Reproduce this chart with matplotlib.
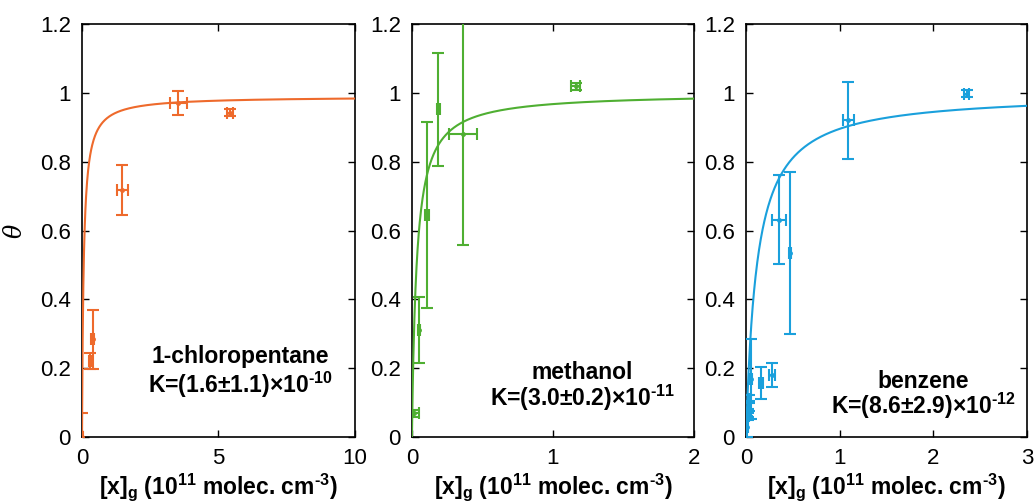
import numpy as np
import matplotlib
matplotlib.use("Agg")
import matplotlib.pyplot as plt

plt.rcParams['font.family'] = ['Liberation Sans Narrow', 'Liberation Sans', 'DejaVu Sans']
plt.rcParams['mathtext.default'] = 'regular'

# ---------------- data ----------------
# 1-chloropentane
x1 = [0.0, 0.29, 0.39, 1.48, 3.53, 5.42]
y1 = [0.0, 0.221, 0.284, 0.718, 0.972, 0.942]
xe1 = [0.02, 0.05, 0.05, 0.2, 0.3, 0.1]
ye1 = [0.07, 0.023, 0.085, 0.073, 0.035, 0.01]
K1 = 16.0       # per 1e11 molec cm-3 (fit)
th1 = 0.99

# methanol
x2 = [0.014, 0.05, 0.109, 0.187, 0.364, 1.161]
y2 = [0.069, 0.311, 0.645, 0.952, 0.882, 1.020]
xe2 = [0.035, 0.01, 0.015, 0.01, 0.1, 0.03]
ye2 = [0.01, 0.096, 0.27, 0.165, 0.325, 0.01]
K2 = 30.0
th2 = 1.0

# benzene
x3 = [0.01, 0.02, 0.025, 0.03, 0.035, 0.05, 0.16, 0.274, 0.355, 0.47, 1.092, 2.355]
y3 = [0.03, 0.06, 0.07, 0.09, 0.11, 0.168, 0.156, 0.180, 0.632, 0.534, 0.921, 0.998]
xe3 = [0.01, 0.01, 0.01, 0.01, 0.01, 0.01, 0.02, 0.03, 0.075, 0.01, 0.06, 0.03]
ye3 = [0.03, 0.01, 0.012, 0.015, 0.012, 0.117, 0.046, 0.036, 0.13, 0.236, 0.112, 0.01]
K3 = 8.6
th3 = 1.0

xmax = [10, 2, 3]
xticks = [[0, 5, 10], [0, 1, 2], [0, 1, 2, 3]]
yticks = [0, 0.2, 0.4, 0.6, 0.8, 1.0, 1.2]
ytick_labels = ['0', '0.2', '0.4', '0.6', '0.8', '1', '1.2']
names = ['1-chloropentane', 'methanol', 'benzene']
HY = '\u2010'
klabels = [r'K=(1.6$\pm$1.1)$\times$10$^{' + HY + '10}$',
           r'K=(3.0$\pm$0.2)$\times$10$^{' + HY + '11}$',
           r'K=(8.6$\pm$2.9)$\times$10$^{' + HY + '12}$']
xlabel = r'[x]$_g$ (10$^{11}$ molec. cm$^{' + HY + '3}$)'
colors = ['#EE6A2C', '#4FAF32', '#1AA0DC']

xs = [x1, x2, x3]
ys = [y1, y2, y3]
xes = [xe1, xe2, xe3]
yes = [ye1, ye2, ye3]
Ks = [K1, K2, K3]
ths = [th1, th2, th3]

fig = plt.figure(figsize=(10.35, 5.04), dpi=100)
lefts = [0.0792, 0.398, 0.7208]
widths = [0.2638, 0.2725, 0.2715]
bottom, height = 0.133, 0.819

name_pos = [(0.58, 0.195), (0.605, 0.155), (0.63, 0.135)]
k_pos = [(0.58, 0.125), (0.605, 0.095), (0.63, 0.075)]

for i in range(3):
    ax = fig.add_axes([lefts[i], bottom, widths[i], height])
    c = colors[i]
    xx = np.linspace(0, xmax[i], 800)
    ax.plot(xx, ths[i] * Ks[i] * xx / (1 + Ks[i] * xx), color=c, lw=1.5, zorder=3)
    ax.errorbar(xs[i], ys[i], xerr=xes[i], yerr=yes[i], fmt='o', ms=2.5,
                color=c, ecolor=c, elinewidth=1.5, capsize=4.5, capthick=1.5,
                clip_on=True, zorder=4)
    ax.set_xlim(0, xmax[i])
    ax.set_ylim(0, 1.2)
    ax.set_xticks(xticks[i])
    ax.set_xticklabels([str(t) for t in xticks[i]])
    ax.set_yticks(yticks)
    ax.set_yticklabels(ytick_labels)
    ax.tick_params(direction='in', top=True, right=True, labelsize=16,
                   length=5, width=1, pad=8)
    for s in ax.spines.values():
        s.set_linewidth(1.2)
    ax.set_xlabel(xlabel, fontsize=16.5, fontweight='bold', labelpad=2)
    ax.text(name_pos[i][0], name_pos[i][1], names[i], transform=ax.transAxes,
            ha='center', va='center', fontsize=16.5, fontweight='bold',
            family=['Liberation Sans', 'DejaVu Sans'])
    ax.text(k_pos[i][0], k_pos[i][1], klabels[i], transform=ax.transAxes,
            ha='center', va='center', fontsize=16.5, fontweight='bold',
            family=['Liberation Sans', 'DejaVu Sans'])
    if i == 0:
        ax.set_ylabel(r'$\theta$', fontsize=17, style='italic', rotation=90,
                      family=['DejaVu Serif'])
        ax.yaxis.set_label_coords(-0.2, 0.5)

fig.savefig('out.png', dpi=100)
